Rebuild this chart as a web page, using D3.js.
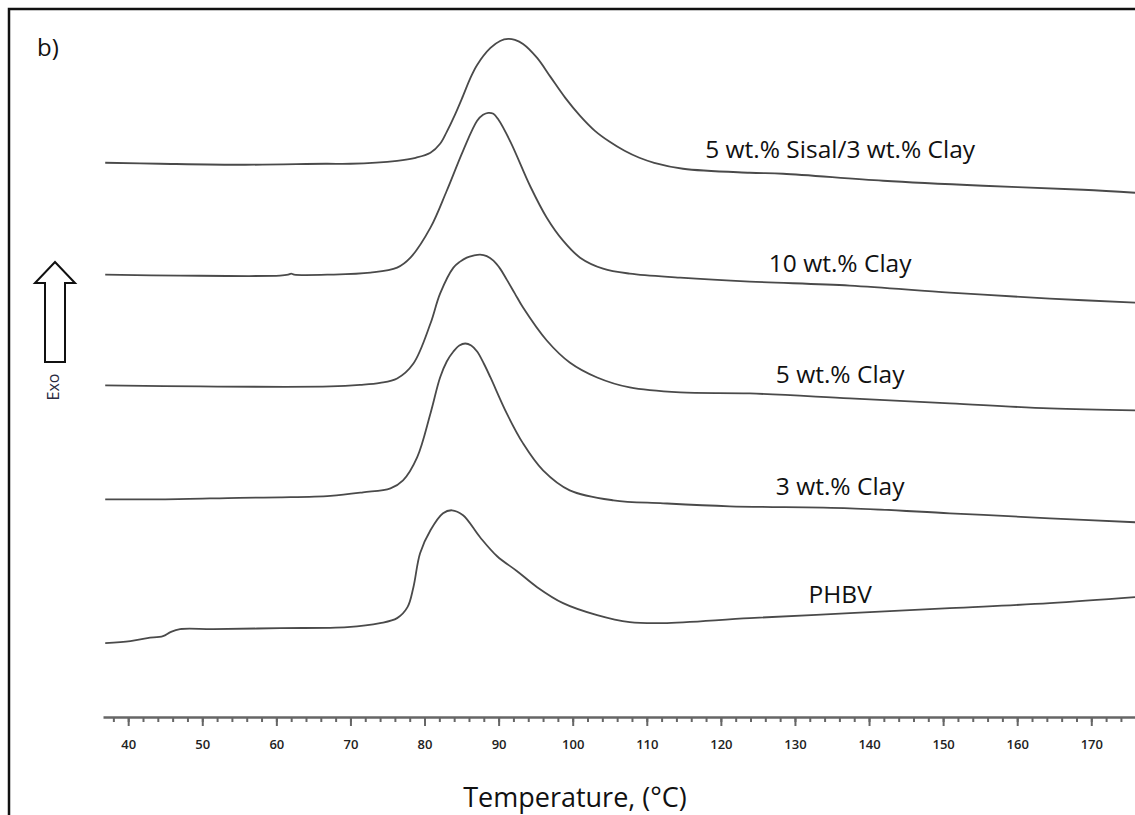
<!DOCTYPE html>
<html>
<head>
<meta charset="utf-8">
<script src="https://cdn.jsdelivr.net/npm/d3@7"></script>
<style>
	body { margin: 0; background: #fff; }
	svg { display: block; }
</style>
</head>
<body>
<svg id="chart" width="1135" height="815"></svg>
<script>
// DSC cooling curves (temperature in °C, heat flow in arbitrary units, stacked)
const names = ["5 wt.% Sisal/3 wt.% Clay", "10 wt.% Clay", "5 wt.% Clay", "3 wt.% Clay", "PHBV"];

const sisal3clay = [[36.9,5.55],[44.3,5.54],[55.8,5.53],[66.6,5.54],[70.0,5.54],[76.3,5.57],[78.8,5.60],[80.8,5.65],[82.1,5.74],[83.0,5.86],[84.1,6.03],[85.2,6.22],[86.2,6.40],[87.1,6.53],[88.9,6.70],[90.2,6.77],[91.3,6.79],[92.2,6.78],[93.3,6.74],[95.2,6.60],[97.0,6.41],[99.0,6.20],[101.0,6.02],[103.0,5.87],[105.0,5.76],[107.0,5.67],[109.0,5.60],[111.0,5.55],[114.9,5.49],[123.9,5.45],[128.4,5.44],[141.9,5.37],[155.4,5.32],[168.9,5.28],[175.9,5.25]];
const clay10 = [[36.9,4.43],[47.0,4.42],[60.5,4.42],[61.6,4.43],[62.0,4.44],[62.4,4.43],[67.3,4.43],[72.7,4.45],[76.3,4.50],[78.1,4.60],[80.8,4.90],[83.0,5.27],[85.2,5.67],[87.1,5.97],[87.9,6.03],[88.6,6.05],[89.3,6.04],[89.9,5.99],[91.6,5.76],[94.3,5.31],[96.5,5.00],[98.7,4.77],[101.0,4.60],[104.1,4.49],[107.7,4.44],[114.5,4.40],[123.9,4.36],[137.4,4.32],[150.9,4.25],[164.4,4.19],[175.9,4.15]];
const clay5 = [[36.9,3.32],[49.7,3.31],[67.3,3.31],[71.3,3.325],[74.0,3.345],[76.3,3.39],[78.5,3.54],[80.8,3.94],[82.1,4.24],[83.9,4.50],[84.8,4.56],[85.7,4.60],[86.6,4.62],[87.5,4.63],[88.4,4.615],[89.3,4.57],[90.2,4.49],[91.1,4.38],[92.2,4.24],[93.3,4.10],[96.5,3.77],[99.6,3.55],[103.3,3.40],[107.7,3.30],[114.5,3.25],[123.9,3.24],[137.4,3.19],[150.9,3.14],[164.4,3.09],[175.9,3.07]];
const clay3 = [[36.9,2.18],[45.0,2.18],[55.0,2.195],[60.5,2.20],[67.3,2.215],[71.7,2.25],[75.4,2.29],[77.1,2.37],[79.0,2.60],[80.8,3.04],[82.1,3.40],[83.0,3.56],[83.9,3.66],[84.7,3.72],[85.5,3.74],[86.3,3.72],[87.1,3.66],[88.0,3.54],[88.9,3.40],[91.1,3.04],[93.3,2.74],[96.0,2.47],[99.6,2.27],[105.5,2.17],[112.2,2.14],[121.2,2.11],[137.4,2.09],[150.9,2.04],[164.4,1.99],[175.9,1.95]];
const phbv = [[36.9,0.74],[40.3,0.76],[42.6,0.79],[44.7,0.81],[45.7,0.85],[47.0,0.88],[51.5,0.88],[60.5,0.89],[69.6,0.90],[74.0,0.94],[76.3,0.99],[77.7,1.10],[78.5,1.30],[79.4,1.64],[80.8,1.87],[82.5,2.04],[83.7,2.07],[85.2,2.02],[87.5,1.80],[89.8,1.61],[92.5,1.46],[95.2,1.30],[98.7,1.14],[103.3,1.02],[107.7,0.95],[112.2,0.94],[123.9,0.99],[137.4,1.04],[150.9,1.09],[164.4,1.14],[175.9,1.20]];

const series = [sisal3clay, clay10, clay5, clay3, phbv];
const majorTicks = [40, 50, 60, 70, 80, 90, 100, 110, 120, 130, 140, 150, 160, 170];
const minorTicks = d3.range(38, 176, 2);

let svg = d3.select("#chart");
let width = +svg.attr("width");
let height = +svg.attr("height");
let margin = {top: 0, right: 0, bottom: 97, left: 103};
let font = "'Open Sans', Lato, sans-serif";

let x = d3.scaleLinear()
	.domain([36.6, 175.9])
	.range([margin.left, width - margin.right]);
let y = d3.scaleLinear()
	.domain([0, 7.18])
	.range([height - margin.bottom - 1, 0]);

// frame (left + top edges only are visible)
svg.append("path")
	.attr("d", `M9,${height} V9 H${width}`)
	.attr("fill", "none")
	.attr("stroke", "#111")
	.attr("stroke-width", 2.5);

svg.append("text")
	.attr("x", 37)
	.attr("y", 56)
	.attr("font-family", font)
	.attr("font-size", 24)
	.attr("fill", "#111")
	.text("b)");

// x axis: minor ticks every 2 °C, labelled ticks every 10 °C
let axisY = y(0);
svg.append("g")
	.attr("transform", `translate(0,${axisY})`)
	.call(d3.axisBottom(x).tickValues(minorTicks).tickSize(5).tickFormat(""))
	.call(g => g.select(".domain").remove())
	.call(g => g.selectAll("line").attr("stroke", "#666").attr("stroke-width", 2));
let xAxis = svg.append("g")
	.attr("transform", `translate(0,${axisY})`)
	.call(d3.axisBottom(x).tickValues(majorTicks).tickSize(9).tickPadding(14).tickSizeOuter(0));
xAxis.select(".domain").attr("stroke", "#666").attr("stroke-width", 2.5);
xAxis.selectAll("line").attr("stroke", "#666").attr("stroke-width", 2);
xAxis.selectAll("text")
	.attr("font-family", "'Open Sans', sans-serif")
	.attr("font-weight", 600)
	.attr("font-size", 13)
	.attr("fill", "#222");

svg.append("text")
	.attr("x", 575)
	.attr("y", 807)
	.attr("text-anchor", "middle")
	.attr("font-family", font)
	.attr("font-size", 27)
	.attr("fill", "#111")
	.text("Temperature, (°C)");

// Exo arrow
svg.append("path")
	.attr("d", "M55,262 L75,283 L65,283 L65,362 L45,362 L45,283 L35,283 Z")
	.attr("fill", "#fff")
	.attr("stroke", "#111")
	.attr("stroke-width", 2);
svg.append("text")
	.attr("transform", "translate(59,387) rotate(-90)")
	.attr("text-anchor", "middle")
	.attr("font-family", font)
	.attr("font-size", 16)
	.attr("fill", "#2a2a40")
	.text("Exo");

// curves
let line = d3.line()
	.x(d => x(d[0]))
	.y(d => y(d[1]))
	.curve(d3.curveCatmullRom.alpha(0.5));

svg.append("g")
	.selectAll("path")
	.data(series)
	.join("path")
	.attr("d", line)
	.attr("fill", "none")
	.attr("stroke", "#4a4a4a")
	.attr("stroke-width", 1.8);

// curve labels, set above each trace near 136 °C
let labelT = 136.1;
let labelLift = [20, 13, 15, 13, 11];
svg.append("g")
	.selectAll("text")
	.data(series)
	.join("text")
	.attr("x", x(labelT))
	.attr("y", (d, i) => {
		let k = d3.bisector(p => p[0]).left(d, labelT);
		let a = d[k - 1], b = d[k];
		let v = a[1] + (b[1] - a[1]) * (labelT - a[0]) / (b[0] - a[0]);
		return y(v) - labelLift[i];
	})
	.attr("text-anchor", "middle")
	.attr("font-family", font)
	.attr("font-size", 24.5)
	.attr("fill", "#111")
	.text((d, i) => names[i]);
</script>
</body>
</html>
